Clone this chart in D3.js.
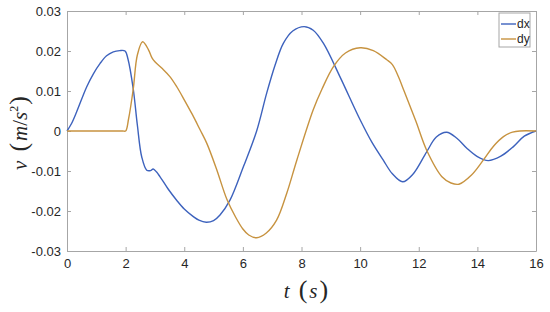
<!DOCTYPE html>
<html>
<head>
<meta charset="utf-8">
<script src="https://cdn.jsdelivr.net/npm/d3@7"></script>
<style>
  body { margin: 0; background: #fff; }
</style>
</head>
<body>
<div id="canvas"></div>
<script>
"use strict"

/* data */
let dxTime = [0, 0.15, 0.33, 0.67, 0.9, 1.13, 1.35, 1.58, 1.8, 1.98, 2.08, 2.26, 2.4, 2.55, 2.72, 2.85, 2.94, 3.05, 3.17, 3.45, 3.74, 4.0, 4.31, 4.5, 4.75, 5.0, 5.22, 5.56, 6.02, 6.47, 6.81, 7.1, 7.38, 7.7, 8.09, 8.4, 8.75, 9.31, 10.0, 10.4, 10.79, 11.1, 11.45, 11.8, 12.27, 12.6, 12.95, 13.3, 13.64, 14.0, 14.37, 14.8, 15.23, 15.6, 16];
let dxValue = [0, 0.0018, 0.0048, 0.011, 0.0143, 0.0169, 0.0188, 0.0198, 0.0201, 0.02, 0.018, 0.0105, 0.0015, -0.0065, -0.0098, -0.0099, -0.0095, -0.0102, -0.0114, -0.0145, -0.0173, -0.0195, -0.0214, -0.0223, -0.0228, -0.0224, -0.021, -0.0173, -0.0089, 0, 0.0094, 0.0165, 0.0219, 0.025, 0.0261, 0.0252, 0.0219, 0.0136, 0.0028, -0.0028, -0.0073, -0.0107, -0.0127, -0.0108, -0.0052, -0.0015, -0.0003, -0.0018, -0.0043, -0.0064, -0.0074, -0.0063, -0.0039, -0.0013, 0];

let dyTime = [0, 1.0, 1.9, 2.0, 2.1, 2.26, 2.4, 2.58, 2.78, 2.9, 3.0, 3.25, 3.51, 3.75, 4.0, 4.27, 4.54, 4.77, 5.1, 5.45, 5.75, 6.0, 6.2, 6.47, 6.8, 7.15, 7.5, 7.84, 8.4, 8.7, 9.09, 9.5, 10.0, 10.45, 10.91, 11.1, 11.3, 11.5, 11.9, 12.27, 12.8, 13.1, 13.37, 13.8, 14.2, 14.55, 14.89, 15.2, 15.45, 16];
let dyValue = [0, 0, 0, 0, 0.003, 0.0105, 0.019, 0.0223, 0.0203, 0.0183, 0.0173, 0.0156, 0.0136, 0.011, 0.0078, 0.0042, 0.0003, -0.0031, -0.0095, -0.017, -0.0215, -0.0245, -0.026, -0.0267, -0.0255, -0.0223, -0.0155, -0.0073, 0.0053, 0.0105, 0.0161, 0.0195, 0.0208, 0.0201, 0.0178, 0.0166, 0.0137, 0.01, 0.0025, -0.0048, -0.0115, -0.013, -0.0133, -0.011, -0.0073, -0.0038, -0.0014, -0.0003, 0, 0];

let xTicks = [0, 2, 4, 6, 8, 10, 12, 14, 16];
let yTicks = [-0.03, -0.02, -0.01, 0, 0.01, 0.02, 0.03];
let seriesNames = ["dx", "dy"];
let seriesColors = ["#3d62bd", "#c79340"];

let width = 550, height = 312;
let plotLeft = 67, plotRight = 536, plotTop = 11, plotBottom = 251;
let sans = "'Liberation Sans', Arial, sans-serif";
let serif = "'Liberation Serif', 'Times New Roman', serif";

let drawing = d3.select("#canvas")
    .append("svg")
    .attr("width", width)
    .attr("height", height);

let x = d3.scaleLinear().domain([0, 16]).range([plotLeft, plotRight]);
let y = d3.scaleLinear().domain([-0.03, 0.03]).range([plotBottom, plotTop]);

let tickFmt = d => d === 0 ? "0" : d3.format(".2f")(d).replace("−", "-");

/* axes: ticks point inward, box on all sides */
drawing.append("g")
    .attr("transform", `translate(0,${plotBottom})`)
    .call(d3.axisBottom(x).tickValues(xTicks).tickSizeInner(-4).tickSizeOuter(0).tickPadding(8));
drawing.append("g")
    .attr("transform", `translate(0,${plotTop})`)
    .call(d3.axisTop(x).tickValues(xTicks).tickSizeInner(-4).tickSizeOuter(0).tickFormat(""));
drawing.append("g")
    .attr("transform", `translate(${plotLeft},0)`)
    .call(d3.axisLeft(y).tickValues(yTicks).tickSizeInner(-4).tickSizeOuter(0).tickPadding(6).tickFormat(tickFmt));
drawing.append("g")
    .attr("transform", `translate(${plotRight},0)`)
    .call(d3.axisRight(y).tickValues(yTicks).tickSizeInner(-4).tickSizeOuter(0).tickFormat(""));

drawing.selectAll(".domain").attr("stroke", "#a6a6a6");
drawing.selectAll(".tick line").attr("stroke", "#a6a6a6");
drawing.selectAll(".tick text")
    .attr("font-size", 13)
    .attr("fill", "#262626")
    .attr("font-family", sans);

/* lines */
let line = d3.line()
    .x(d => x(d[0]))
    .y(d => y(d[1]))
    .curve(d3.curveCatmullRom.alpha(0.5));

let series = [
    d3.zip(dxTime, dxValue),
    d3.zip(dyTime, dyValue)
];

drawing.append("g").selectAll("path")
    .data(series)
    .join("path")
    .attr("d", line)
    .attr("fill", "none")
    .attr("stroke", (d, i) => seriesColors[i])
    .attr("stroke-width", 1.4);

/* axis labels */
let xLabel = drawing.append("text")
    .attr("x", 306)
    .attr("y", 298)
    .attr("text-anchor", "middle")
    .attr("font-family", serif)
    .attr("font-size", 21)
    .attr("fill", "#262626");
xLabel.append("tspan").attr("font-style", "italic").text("t");
xLabel.append("tspan").attr("font-size", 26).attr("dx", 9).text("(");
xLabel.append("tspan").attr("font-style", "italic").attr("dx", 2).text("s");
xLabel.append("tspan").attr("font-size", 26).attr("dx", 2).text(")");

let yLabel = drawing.append("text")
    .attr("transform", "translate(27,133) rotate(-90)")
    .attr("text-anchor", "middle")
    .attr("font-family", serif)
    .attr("font-size", 21)
    .attr("fill", "#262626");
yLabel.append("tspan").attr("font-style", "italic").text("v");
yLabel.append("tspan").attr("font-size", 26).attr("dx", 9).text("(");
yLabel.append("tspan").attr("font-style", "italic").attr("dx", 2).text("m");
yLabel.append("tspan").text("/");
yLabel.append("tspan").attr("font-style", "italic").text("s");
yLabel.append("tspan").attr("font-size", 12).attr("dy", -9).text("2");
yLabel.append("tspan").attr("font-size", 26).attr("dy", 9).attr("dx", 1).text(")");

/* legend */
let legend = drawing.append("g");
legend.append("rect")
    .attr("x", 499)
    .attr("y", 13)
    .attr("width", 31)
    .attr("height", 34)
    .attr("fill", "#fff")
    .attr("stroke", "#a6a6a6");

seriesNames.forEach((name, i) => {
    let ly = 24 + i * 15;
    legend.append("line")
        .attr("x1", 501).attr("x2", 516)
        .attr("y1", ly).attr("y2", ly)
        .attr("stroke", seriesColors[i])
        .attr("stroke-width", 1.4);
    legend.append("text")
        .attr("x", 517)
        .attr("y", ly + 4)
        .attr("font-size", 12)
        .attr("font-family", sans)
        .attr("fill", "#262626")
        .text(name);
});
</script>
</body>
</html>
